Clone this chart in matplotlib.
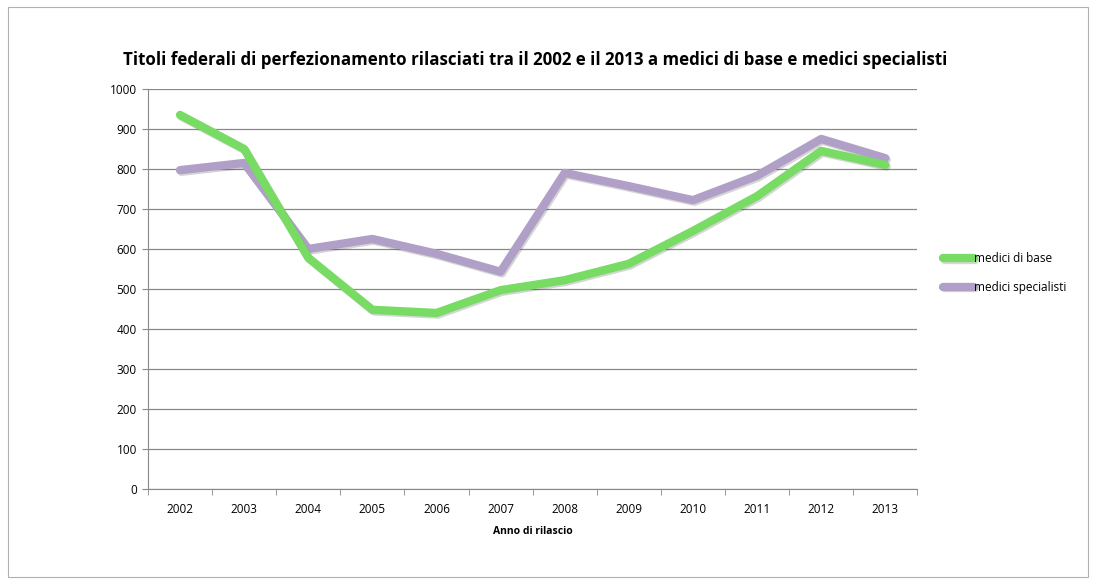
import numpy as np
import matplotlib.pyplot as plt
import matplotlib.patheffects as pe
from matplotlib.patches import Rectangle

anni = ["2002", "2003", "2004", "2005", "2006", "2007",
        "2008", "2009", "2010", "2011", "2012", "2013"]
medici_base = [935, 850, 578, 448, 440, 497, 522, 563, 645, 732, 845, 810]
medici_specialisti = [797, 815, 600, 625, 588, 543, 790, 757, 722, 783, 875, 827]

plt.rcParams['font.family'] = ['Open Sans', 'DejaVu Sans']

fig = plt.figure(figsize=(10.96, 5.84), dpi=100)
fig.patches.append(Rectangle((0.007, 0.012), 0.986, 0.976, transform=fig.transFigure,
                             fill=False, edgecolor="#b0b0b0", linewidth=0.8))
ax = fig.add_axes([0.135, 0.1627, 0.702, 0.685])

x = np.arange(len(anni))
shadow = [pe.SimpleLineShadow(offset=(1.0, -1.2), shadow_color="#444444", alpha=0.22), pe.Normal()]
ax.plot(x, medici_specialisti, color="#b0a0c8", lw=6, solid_capstyle="round",
        path_effects=shadow, label="medici specialisti", zorder=3)
ax.plot(x, medici_base, color="#78dc64", lw=6, solid_capstyle="round",
        path_effects=shadow, label="medici di base", zorder=4)

ax.set_xlim(-0.5, len(anni) - 0.5)
ax.set_ylim(0, 1000)
ax.set_yticks(np.arange(0, 1001, 100))
ax.set_xticks(x)
ax.set_xticklabels(anni)
ax.set_xticks(np.arange(-0.5, len(anni), 1), minor=True)
ax.tick_params(axis="x", which="major", length=0, pad=10, labelsize=8.5)
ax.tick_params(axis="x", which="minor", length=4, color="#888888")
ax.tick_params(axis="y", length=4, color="#888888", labelsize=8.5, pad=4)
ax.grid(axis="y", color="#888888", lw=0.9)
ax.set_axisbelow(True)
for s in ["top", "right"]:
    ax.spines[s].set_visible(False)
for s in ["left", "bottom"]:
    ax.spines[s].set_color("#888888")

ax.set_xlabel("Anno di rilascio", fontsize=7.5, fontweight="bold", labelpad=7)
fig.text(0.488, 0.897, "Titoli federali di perfezionamento rilasciati tra il 2002 e il 2013 a medici di base e medici specialisti",
         ha="center", va="center", fontsize=12.2, fontweight="bold")

h, l = ax.get_legend_handles_labels()
ax.legend(h[::-1], l[::-1], loc="center left", bbox_to_anchor=(1.02, 0.54), frameon=False,
          fontsize=8.5, handlelength=2.6, handletextpad=0.0, labelspacing=1.3)

fig.savefig("out.png", dpi=100)
